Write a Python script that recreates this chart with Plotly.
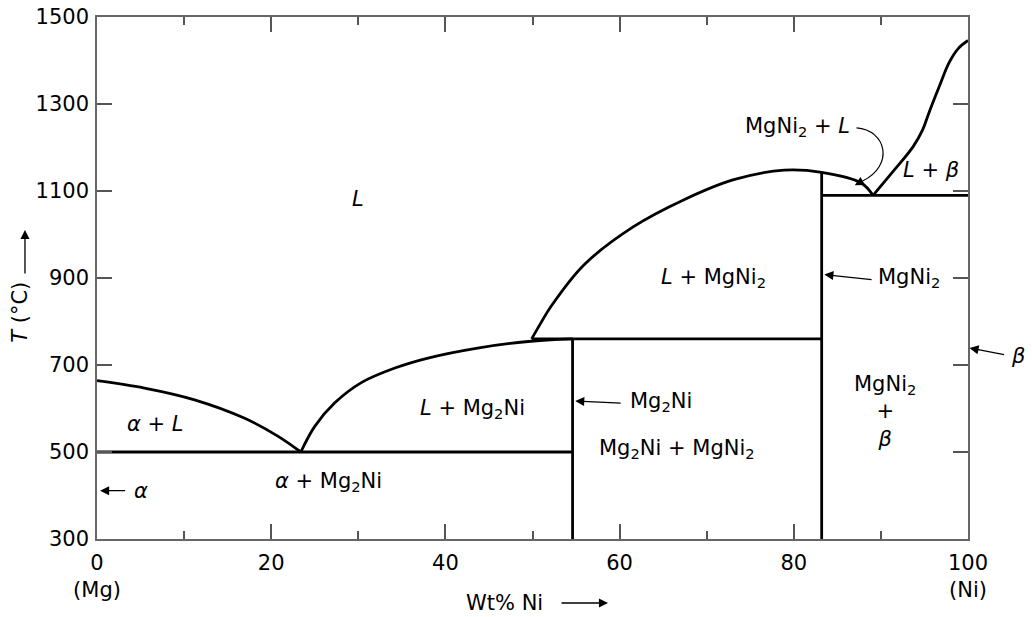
import plotly.graph_objects as go

# ---- phase boundary data (Wt% Ni, temperature in °C) ----
mg_liq_x = [0, 5.45, 11.2, 16.9, 20.8, 23.4]
mg_liq_t = [664, 647, 620, 578, 536, 500]

mg2ni_liq_x = [23.4, 25.0, 27.3, 30.3, 34.2, 38.0, 43.7, 49.5, 54.6]
mg2ni_liq_t = [500, 559, 613, 659, 693, 716, 739, 754, 760]

mgni2_liq_x = [49.9, 51.0, 52.1, 55.9, 61.6, 67.4, 73.1, 78.9, 83.2, 87.7, 89.1]
mgni2_liq_t = [760, 798, 834, 930, 1018, 1080, 1126, 1148, 1143, 1119, 1090]

ni_liq_x = [89.1, 91.4, 93.7, 94.8, 95.5, 96.7, 97.8, 98.9, 100]
ni_liq_t = [1090, 1145, 1202, 1241, 1279, 1340, 1394, 1428, 1446]

eutectic1_x = [0, 54.6]
eutectic1_t = [500, 500]
peritectic_x = [49.9, 83.2]
peritectic_t = [760, 760]
eutectic2_x = [83.2, 100]
eutectic2_t = [1090, 1090]
mg2ni_line_x = [54.6, 54.6]
mg2ni_line_t = [300, 760]
mgni2_line_x = [83.2, 83.2]
mgni2_line_t = [300, 1143]

x_tickvals = [0, 20, 40, 60, 80, 100]
x_ticktext = ["0<br>(Mg)", "20", "40", "60", "80", "100<br>(Ni)"]
x_minor = [10, 30, 50, 70, 90]
y_tickvals = [300, 500, 700, 900, 1100, 1300, 1500]

FONT = "DejaVu Sans, Liberation Sans, Arial"
LW = 2.8

fig = go.Figure()

for xs, ts, shape in [
    (mg_liq_x, mg_liq_t, "spline"),
    (mg2ni_liq_x, mg2ni_liq_t, "spline"),
    (mgni2_liq_x, mgni2_liq_t, "spline"),
    (ni_liq_x, ni_liq_t, "spline"),
    (eutectic1_x, eutectic1_t, "linear"),
    (peritectic_x, peritectic_t, "linear"),
    (eutectic2_x, eutectic2_t, "linear"),
    (mg2ni_line_x, mg2ni_line_t, "linear"),
    (mgni2_line_x, mgni2_line_t, "linear"),
]:
    fig.add_trace(go.Scatter(x=xs, y=ts, mode="lines",
                             line=dict(color="black", width=LW, shape=shape, smoothing=1.0),
                             hoverinfo="skip", showlegend=False))

annots = []

def label(x, y, text, ref="data"):
    r = ("x", "y") if ref == "data" else ("paper", "paper")
    annots.append(dict(x=x, y=y, xref=r[0], yref=r[1], text=text, showarrow=False,
                       xanchor="center", yanchor="middle",
                       font=dict(family=FONT, size=21, color="black")))

def arrow(hx, hy, tx, ty):
    annots.append(dict(x=hx, y=hy, ax=tx, ay=ty, xref="x", yref="y", axref="x", ayref="y",
                       text="", showarrow=True, arrowhead=2, arrowsize=1.4, arrowwidth=1.3,
                       arrowcolor="black"))

def parrow(hx, hy, dx, dy):
    annots.append(dict(x=hx, y=hy, ax=dx, ay=dy, xref="paper", yref="paper",
                       text="", showarrow=True, arrowhead=2, arrowsize=1.4, arrowwidth=1.3,
                       arrowcolor="black"))

label(30, 1082, "<i>L</i>")
label(6.7, 565, "<i>α</i> + <i>L</i>")
label(26.6, 430, "<i>α</i> + Mg<sub>2</sub>Ni")
label(5.1, 411, "<i>α</i>")
arrow(0.35, 411, 3.4, 411)
label(43.1, 599, "<i>L</i> + Mg<sub>2</sub>Ni")
label(64.8, 614, "Mg<sub>2</sub>Ni")
arrow(54.9, 617, 60.3, 612)
label(66.6, 507, "Mg<sub>2</sub>Ni + MgNi<sub>2</sub>")
label(70.8, 899, "<i>L</i> + MgNi<sub>2</sub>")
label(93.2, 899, "MgNi<sub>2</sub>")
arrow(83.5, 908, 89.1, 896)
label(90.5, 592, "MgNi<sub>2</sub><br>+<br><i>β</i>")
label(80.4, 1248, "MgNi<sub>2</sub> + <i>L</i>")
label(95.8, 1149, "<i>L</i> + <i>β</i>")
# curved pointer arrow head
arrow(87.0, 1113, 87.9, 1123)

# beta (outside the plot, paper coords)
label(1.057, 0.35, "<i>β</i>", ref="paper")
parrow(1.0017, 0.366, 36, 7)

# axis titles with arrows
label(0.468, -0.122, "Wt% Ni", ref="paper")
parrow(0.5867, -0.1226, -48, 0)
annots.append(dict(x=-0.088, y=0.434, xref="paper", yref="paper", text="<i>T</i> (°C)",
                   textangle=-90, showarrow=False, xanchor="center", yanchor="middle",
                   font=dict(family=FONT, size=21, color="black")))
parrow(-0.0827, 0.592, 0, 45)

fig.update_layout(
    width=1032, height=617,
    margin=dict(l=97, r=64, t=17, b=78, autoexpand=False),
    plot_bgcolor="white", paper_bgcolor="white",
    showlegend=False,
    font=dict(family=FONT, size=21, color="black"),
    annotations=annots,
    shapes=[dict(type="path", xref="x", yref="y",
                 path="M 87.2,1245 C 90.6,1240 91.6,1160 87.9,1123",
                 line=dict(color="black", width=1.2))],
)
fig.update_xaxes(range=[0, 100], tickvals=x_tickvals, ticktext=x_ticktext,
                 ticks="inside", ticklen=15, tickwidth=1.5, tickcolor="#555",
                 showline=True, linecolor="#666", linewidth=1.6, mirror="ticks",
                 showgrid=False, zeroline=False, automargin=False, ticklabelstandoff=4,
                 tickfont=dict(family=FONT, size=21, color="black"),
                 minor=dict(tickvals=x_minor, ticks="inside", ticklen=8, tickwidth=1.5,
                            tickcolor="#555", showgrid=False))
fig.update_yaxes(range=[300, 1500], tickvals=y_tickvals,
                 ticks="inside", ticklen=15, tickwidth=1.5, tickcolor="#555",
                 showline=True, linecolor="#666", linewidth=1.6, mirror="ticks",
                 showgrid=False, zeroline=False, automargin=False, ticklabelstandoff=2,
                 tickfont=dict(family=FONT, size=21, color="black"))

fig.write_html("out.html", config={"displayModeBar": False},
               post_script="document.body.style.margin='0';document.body.style.overflow='hidden';")
